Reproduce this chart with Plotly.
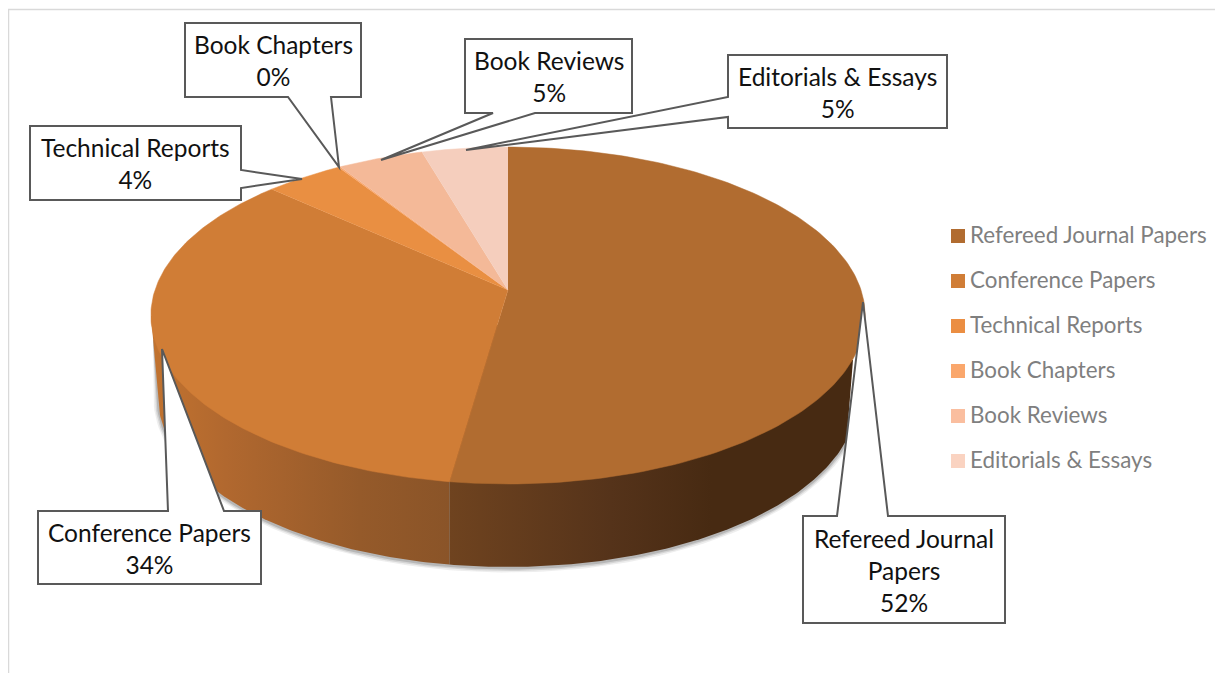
"""Publication types: 3-D look pie with callout labels, drawn on pixel-scaled axes."""
import numpy as np
import plotly.graph_objects as go

# --- Data ---
CATEGORIES = ["Refereed Journal Papers", "Conference Papers", "Technical Reports",
              "Book Chapters", "Book Reviews", "Editorials & Essays"]
# wedge sizes as measured on the drawn pie, printed percentages as labelled
SHARES = [52.25, 34.55, 4.1, 0.1, 4.5, 4.5]
PERCENT_LABELS = [52, 34, 4, 0, 5, 5]
TOP_COLORS = ["#B16C30", "#D07D36", "#E98F42", "#F9A66C", "#F4B998", "#F5CEBD"]
LEGEND_COLORS = ["#B16C30", "#D07D36", "#EB8E42", "#FAA76C", "#FABE9F", "#FAD3C1"]
LABEL_LINES = ["Refereed Journal<br>Papers", "Conference Papers", "Technical Reports",
               "Book Chapters", "Book Reviews", "Editorials & Essays"]

# --- Pie geometry (page pixels) ---
CX, APEX_Y = 508, 290
PERSP, RIM_A, RIM_B = 0.1514, 353, 164.6
BASE_CY, BASE_RX, BASE_RY = 397, 350, 170
FONT = "Lato"

# Callouts: box (x0, y0, x1, y1), leader base side and points, leader tip
CALLOUTS = [
    dict(box=(803, 516, 1005, 623), side="top", base=(837, 888), tip=(863, 302)),
    dict(box=(38, 511, 261, 584), side="top", base=(168, 224), tip=(162, 349)),
    dict(box=(30, 126, 241, 200), side="right", base=(170, 188), tip=(302, 179)),
    dict(box=(185, 23, 361, 97), side="bottom", base=(288, 331), tip=(339, 167)),
    dict(box=(465, 39, 632, 113), side="bottom", base=(493, 535), tip=(381, 160)),
    dict(box=(728, 55, 947, 128), side="left", base=(97, 117), tip=(466, 150)),
]


def rim_point(frac):
    """Perspective projection of a point on the pie rim, clockwise from the top."""
    ang = 2 * np.pi * np.asarray(frac)
    u, v = np.sin(ang), np.cos(ang)
    w = 1 + PERSP * v
    return CX + RIM_A * u / w, APEX_Y - RIM_B * v / w


def base_arc(t0, t1, grow=0.0, dy=0.0):
    t = np.radians(np.linspace(t0, t1, 120))
    return (CX + (BASE_RX + grow) * np.cos(t),
            BASE_CY + dy + (BASE_RY + grow) * np.sin(t))


def callout_path(c):
    x0, y0, x1, y1 = c["box"]
    a, b = c["base"]
    tx, ty = c["tip"]
    if c["side"] == "top":
        pts = [(x0, y0), (a, y0), (tx, ty), (b, y0), (x1, y0), (x1, y1), (x0, y1)]
    elif c["side"] == "bottom":
        pts = [(x0, y0), (x1, y0), (x1, y1), (b, y1), (tx, ty), (a, y1), (x0, y1)]
    elif c["side"] == "right":
        pts = [(x0, y0), (x1, y0), (x1, a), (tx, ty), (x1, b), (x1, y1), (x0, y1)]
    else:
        pts = [(x0, y0), (x1, y0), (x1, y1), (x0, y1), (x0, b), (tx, ty), (x0, a)]
    return "M" + " L".join(f"{x},{y}" for x, y in pts) + " Z"


fig = go.Figure()

cum = np.cumsum([0] + SHARES) / sum(SHARES)
split_x = float(rim_point(cum[1])[0])
split_t = np.degrees(np.arccos((split_x - CX) / BASE_RX))
right_t = np.degrees(np.arcsin((440 - BASE_CY) / BASE_RY))

# soft shadow under the rim
for grow, dy, alpha in [(4.5, 1, 0.10), (3, 1, 0.16), (1.5, 1, 0.25)]:
    sx, sy = base_arc(180, right_t, grow, dy)
    fig.add_trace(go.Scatter(x=np.r_[153, sx], y=np.r_[340, sy], mode="lines", fill="toself",
                             fillcolor=f"rgba(90,90,90,{alpha})", line=dict(width=0),
                             hoverinfo="skip", showlegend=False))

# side wall of the conference slice
ax, ay = base_arc(180, split_t)
fig.add_trace(go.Scatter(
    x=np.r_[151, ax, split_x], y=np.r_[316, ay, 320],
    mode="lines", fill="toself", line=dict(width=0), hoverinfo="skip", showlegend=False,
    fillgradient=dict(type="horizontal", colorscale=[[0, "#C2732F"], [0.25, "#B1682F"],
                                                     [0.7, "#955A2A"], [1, "#8A5428"]]),
))
# side wall of the journal slice
ax, ay = base_arc(split_t, right_t)
fig.add_trace(go.Scatter(
    x=np.r_[split_x, ax, 853], y=np.r_[320, ay, 360],
    mode="lines", fill="toself", line=dict(width=0), hoverinfo="skip", showlegend=False,
    fillgradient=dict(type="horizontal", colorscale=[[0, "#6F431F"], [0.4, "#55331A"],
                                                     [0.65, "#472A12"], [1, "#472A12"]]),
))

# top face, one wedge per category
for i, name in enumerate(CATEGORIES):
    rx, ry = rim_point(np.linspace(cum[i], cum[i + 1], 160))
    fig.add_trace(go.Scatter(
        x=np.r_[CX, rx], y=np.r_[APEX_Y, ry], mode="lines", fill="toself",
        fillcolor=TOP_COLORS[i], line=dict(width=0.5, color=TOP_COLORS[i]),
        name=name, text=f"{name}: {PERCENT_LABELS[i]}%", hoverinfo="text", showlegend=False,
    ))

# legend column
LEGEND_Y = [236, 281, 326, 371, 416, 461]
fig.add_trace(go.Scatter(
    x=[958] * 6, y=LEGEND_Y, mode="markers",
    marker=dict(symbol="square", size=14, color=LEGEND_COLORS),
    hoverinfo="skip", showlegend=False,
))
fig.add_trace(go.Scatter(
    x=[970] * 6, y=[y + 1 for y in LEGEND_Y], mode="text",
    text=CATEGORIES, textposition="middle right",
    textfont=dict(family=FONT, size=22.4, color="#7F7F7F"),
    hoverinfo="skip", showlegend=False,
))

shapes = [
    dict(type="line", x0=8, x1=1215, y0=9.5, y1=9.5, line=dict(color="#D9D9D9", width=1.5), layer="below"),
    dict(type="line", x0=8.5, x1=8.5, y0=9, y1=673, line=dict(color="#D9D9D9", width=1.5), layer="below"),
]
annotations = []
for c, label, pct in zip(CALLOUTS, LABEL_LINES, PERCENT_LABELS):
    shapes.append(dict(type="path", path=callout_path(c), fillcolor="white",
                       line=dict(color="#595959", width=2)))
    x0, y0, x1, y1 = c["box"]
    annotations.append(dict(x=(x0 + x1) / 2, y=(y0 + y1) / 2 + 0.5, xref="x", yref="y", showarrow=False,
                            text=f"{label}<br>{pct}%", align="center",
                            font=dict(family=FONT, size=24.5, color="#111111")))

fig.update_layout(
    width=1207, height=665, margin=dict(l=0, r=0, t=0, b=0),
    paper_bgcolor="white", plot_bgcolor="white", showlegend=False,
    xaxis=dict(range=[8, 1215], visible=False, fixedrange=True),
    yaxis=dict(range=[673, 8], visible=False, fixedrange=True),
    shapes=shapes, annotations=annotations,
)

fig.write_html("out.html")
